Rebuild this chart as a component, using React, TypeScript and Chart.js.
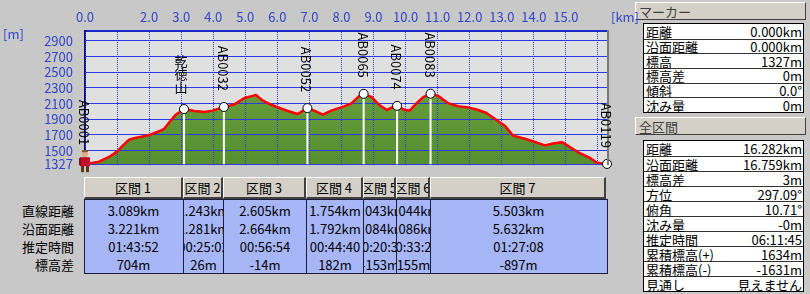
import React, { useEffect, useRef, useState } from "react";
import { Chart, registerables } from "chart.js";

Chart.register(...registerables);

// ---------- data ----------
const distKm = [
  0, 0.44, 0.75, 1.01, 1.17, 1.375, 1.53, 1.79, 2.0, 2.31, 2.47, 2.625, 2.83, 3.089,
  3.41, 3.72, 3.98, 4.332, 4.66, 4.97, 5.23, 5.33, 5.54, 5.85, 6.17, 6.375, 6.63, 6.937,
  7.16, 7.42, 7.68, 7.99, 8.3, 8.56, 8.691, 8.93, 9.19, 9.42, 9.55, 9.734, 9.97, 10.125,
  10.33, 10.54, 10.778, 11.01, 11.32, 11.63, 11.95, 12.26, 12.52, 12.78, 13.09, 13.35,
  13.72, 14.03, 14.34, 14.6, 14.87, 15.07, 15.38, 15.75, 15.96, 16.281,
];
const elevM = [
  1327, 1359, 1419, 1491, 1560, 1639, 1659, 1680, 1699, 1747, 1779, 1860, 1959, 2031,
  2007, 1992, 2011, 2057, 2091, 2172, 2199, 2211, 2139, 2079, 2028, 2000, 1968, 2043,
  2007, 1959, 2011, 2052, 2100, 2199, 2225, 2187, 2079, 2019, 2047, 2072, 2019, 2011,
  2100, 2179, 2227, 2199, 2107, 2067, 2052, 2019, 1980, 1908, 1819, 1692,
  1651, 1611, 1567, 1591, 1608, 1560, 1479, 1407, 1347, 1330,
];

const wpNames = ["AB0001", "乾徳山", "AB0032", "AB0052", "AB0065", "AB0074", "AB0083", "AB0119"];
const wpKm = [0, 3.089, 4.332, 6.937, 8.691, 9.734, 10.778, 16.281];
const wpElev = [1327, 2031, 2057, 2043, 2225, 2072, 2227, 1330];

const xTickValues = [0, 1, 2, 3, 4, 5, 6, 7, 8, 9, 10, 11, 12, 13, 14, 15, 16];
const xTickLabels = ["0.0", "", "2.0", "3.0", "4.0", "5.0", "6.0", "7.0", "8.0", "9.0", "10.0", "11.0", "12.0", "13.0", "14.0", "15.0", ""];
const yTickValues = [1327, 1500, 1700, 1900, 2100, 2300, 2500, 2700, 2900];
const yTickLabels = ["1327", "1500", "1700", "1900", "2100", "2300", "2500", "2700", "2900"];
const yMin = 1327;
const yMax = 3027;
const xMax = 16.281;

const sectionNames = ["区間 1", "区間 2", "区間 3", "区間 4", "区間 5", "区間 6", "区間 7"];
const sectionDirect = ["3.089km", "1.243km", "2.605km", "1.754km", "1.043km", "1.044km", "5.503km"];
const sectionSurface = ["3.221km", "1.281km", "2.664km", "1.792km", "1.084km", "1.086km", "5.632km"];
const sectionTime = ["01:43:52", "00:25:02", "00:56:54", "00:44:40", "00:20:35", "00:33:24", "01:27:08"];
const sectionDiff = ["704m", "26m", "-14m", "182m", "-153m", "155m", "-897m"];
const rowLabels = ["直線距離", "沿面距離", "推定時間", "標高差"];

const markerLabels = ["距離", "沿面距離", "標高", "標高差", "傾斜", "沈み量"];
const markerValues = ["0.000km", "0.000km", "1327m", "0m", "0.0°", "0m"];
const totalLabels = ["距離", "沿面距離", "標高差", "方位", "俯角", "沈み量", "推定時間", "累積標高(+)", "累積標高(-)", "見通し"];
const totalValues = ["16.282km", "16.759km", "3m", "297.09°", "10.71°", "-0m", "06:11:45", "1634m", "-1631m", "見えません"];

// ---------- styles ----------
const FONT = '"Noto Sans CJK JP", "Noto Sans", sans-serif';
const BLUE_TEXT = "#3344cc";
const GRID_BLUE = "#2b3be6";
const PAGE_BG = "#c8c8c8";
const BTN_BG = "#d4d0c8";

const CANVAS_W = 640;
const CANVAS_H = 184;
const PLOT_RIGHT = 607;
const PLOT_BOTTOM = 173;

const decorPlugin = {
  id: "decor",
  beforeDraw(chart: any) {
    const { ctx, chartArea: a } = chart;
    ctx.save();
    ctx.fillStyle = "#e0e0e0";
    ctx.fillRect(a.left, a.top, a.right - a.left, a.bottom - a.top);
    ctx.restore();
  },
  afterDatasetDraw(chart: any, args: any) {
    if (args.index !== 0) return;
    const { ctx, chartArea: a } = chart;
    const xs = chart.scales.x;
    const ys = chart.scales.y;
    // grid lines over the terrain fill
    xs.drawGrid(a);
    ys.drawGrid(a);
    ctx.save();
    ctx.strokeStyle = "#ffffff";
    ctx.lineWidth = 2;
    for (let i = 1; i < wpKm.length; i++) {
      const x = xs.getPixelForValue(wpKm[i]);
      const y = ys.getPixelForValue(wpElev[i]);
      ctx.beginPath();
      ctx.moveTo(x, y);
      ctx.lineTo(x, a.bottom);
      ctx.stroke();
    }
    ctx.restore();
  },
  afterDraw(chart: any) {
    const { ctx, chartArea: a } = chart;
    const xs = chart.scales.x;
    const ys = chart.scales.y;
    ctx.save();
    // right frame
    ctx.strokeStyle = "#7a7a7a";
    ctx.lineWidth = 2;
    ctx.beginPath();
    ctx.moveTo(a.right + 1, a.top - 1);
    ctx.lineTo(a.right + 1, a.bottom + 1);
    ctx.stroke();

    // unit labels
    ctx.fillStyle = BLUE_TEXT;
    ctx.font = `13px ${FONT}`;
    ctx.textBaseline = "middle";
    ctx.textAlign = "left";
    ctx.fillText("[m]", 3, 34);
    ctx.fillText("[km]", a.right + 4, 17);

    // waypoint labels
    ctx.fillStyle = "#000";
    ctx.font = `13px ${FONT}`;
    for (let i = 0; i < wpNames.length; i++) {
      const x = xs.getPixelForValue(wpKm[i]) - 1;
      const y = ys.getPixelForValue(wpElev[i]);
      const off = i === 0 ? 19 : 16;
      const name = wpNames[i];
      if (/^[\x00-\x7f]+$/.test(name)) {
        ctx.save();
        ctx.translate(x, y - off);
        ctx.rotate(Math.PI / 2);
        ctx.textAlign = "right";
        ctx.textBaseline = "middle";
        ctx.fillText(name, 0, 0);
        ctx.restore();
      } else {
        ctx.textAlign = "center";
        ctx.textBaseline = "middle";
        const chars = Array.from(name);
        for (let k = 0; k < chars.length; k++) {
          const cy = y - off - 6 - (chars.length - 1 - k) * 13;
          ctx.fillText(chars[k], x - 2, cy);
        }
      }
    }

    // hiker icon at start
    const hx = xs.getPixelForValue(wpKm[0]);
    const hy = ys.getPixelForValue(wpElev[0]);
    ctx.fillStyle = "#5a3a1a";
    ctx.fillRect(hx - 4, hy + 1, 3, 7);
    ctx.fillRect(hx + 1, hy + 1, 3, 7);
    ctx.fillStyle = "#c0102a";
    ctx.fillRect(hx - 5, hy - 7, 10, 9);
    ctx.fillStyle = "#7a1020";
    ctx.fillRect(hx - 6, hy - 6, 2, 7);
    ctx.fillStyle = "#e0b080";
    ctx.beginPath();
    ctx.arc(hx, hy - 10, 3, 0, Math.PI * 2);
    ctx.fill();
    ctx.fillStyle = "#8a5a20";
    ctx.fillRect(hx - 3, hy - 14, 6, 2);
    ctx.restore();
  },
};

const btnStyle: React.CSSProperties = {
  position: "absolute",
  background: BTN_BG,
  boxSizing: "border-box",
  borderTop: "1px solid #ffffff",
  borderLeft: "1px solid #ffffff",
  borderRight: "2px solid #404040",
  borderBottom: "2px solid #404040",
  font: `13px ${FONT}`,
  color: "#000",
  whiteSpace: "nowrap",
  overflow: "hidden",
  display: "flex",
  alignItems: "center",
  justifyContent: "center",
};

function InfoBox({ top, labels, values, rowH }: { top: number; labels: string[]; values: string[]; rowH: number }) {
  return (
    <div
      style={{
        position: "absolute",
        left: 643,
        top,
        width: 159,
        background: "#fff",
        border: "1px solid #000",
        boxSizing: "content-box",
        font: `13px ${FONT}`,
        color: "#000",
      }}
    >
      {labels.map((l, i) => (
        <div
          key={i}
          style={{
            height: rowH,
            boxSizing: "border-box",
            borderTop: i === 0 ? "none" : "1px solid #333",
            display: "flex",
            justifyContent: "space-between",
            alignItems: "center",
            padding: "0 1px 0 2px",
            lineHeight: "13px",
            whiteSpace: "nowrap",
          }}
        >
          <span>{l}</span>
          <span>{values[i]}</span>
        </div>
      ))}
    </div>
  );
}

function PanelHeader({ top, text }: { top: number; text: string }) {
  return (
    <div
      style={{
        ...btnStyle,
        left: 635,
        top,
        width: 171,
        height: 18,
        justifyContent: "flex-start",
        paddingLeft: 3,
        color: "#404040",
        borderRight: "1px solid #404040",
        borderBottom: "1px solid #404040",
      }}
    >
      {text}
    </div>
  );
}

export default function App() {
  const canvasRef = useRef<HTMLCanvasElement | null>(null);
  const [edges, setEdges] = useState<number[] | null>(null);

  useEffect(() => {
    document.body.style.margin = "0";
    const canvas = canvasRef.current;
    if (!canvas) return;
    const profilePoints = distKm.map((x, i) => ({ x, y: elevM[i] }));
    const chart = new Chart(canvas, {
      type: "line",
      data: {
        datasets: [
          {
            type: "line",
            data: profilePoints,
            borderWidth: 0,
            borderColor: "rgba(0,0,0,0)",
            pointRadius: 0,
            tension: 0,
            fill: "start",
            order: 3,
            backgroundColor: (c: any) => {
              const area = c.chart.chartArea;
              if (!area) return "#629838";
              const g = c.chart.ctx.createLinearGradient(0, area.top, 0, area.bottom);
              g.addColorStop(0, "#74a845");
              g.addColorStop(0.5, "#659c3a");
              g.addColorStop(1, "#558f30");
              return g;
            },
          } as any,
          {
            type: "line",
            data: profilePoints,
            borderColor: "#ff0000",
            borderWidth: 2.5,
            borderJoinStyle: "round",
            pointRadius: 0,
            tension: 0,
            fill: false,
            order: 2,
          } as any,
          {
            type: "line",
            data: wpKm.map((x, i) => ({ x, y: wpElev[i] })),
            showLine: false,
            pointRadius: (c: any) => (c.dataIndex === 0 ? 0 : 4.5),
            pointHoverRadius: 0,
            pointBackgroundColor: "#ffffff",
            pointBorderColor: "#000000",
            pointBorderWidth: 1,
            order: 1,
            clip: false,
          } as any,
        ],
      },
      options: {
        responsive: false,
        animation: false,
        events: [],
        layout: { padding: { left: 0, top: 0, right: CANVAS_W - PLOT_RIGHT, bottom: CANVAS_H - PLOT_BOTTOM } },
        plugins: { legend: { display: false }, tooltip: { enabled: false } },
        scales: {
          x: {
            type: "linear",
            position: "top",
            min: 0,
            max: xMax,
            afterFit: (s: any) => {
              s.height = 31;
            },
            afterBuildTicks: (s: any) => {
              s.ticks = xTickValues.map((v) => ({ value: v }));
            },
            ticks: {
              autoSkip: false,
              maxRotation: 0,
              padding: 6,
              color: BLUE_TEXT,
              font: { family: FONT, size: 13 },
              callback: (v: any) => {
                const idx = xTickValues.indexOf(Number(v));
                return idx >= 0 ? xTickLabels[idx] : "";
              },
            },
            grid: { color: GRID_BLUE, lineWidth: 1, drawTicks: false },
            border: { display: true, color: "#1a28c8", width: 2, dash: [1, 1] },
          },
          y: {
            type: "linear",
            min: yMin,
            max: yMax,
            afterFit: (s: any) => {
              s.width = 85;
            },
            afterBuildTicks: (s: any) => {
              s.ticks = yTickValues.map((v) => ({ value: v }));
            },
            ticks: {
              autoSkip: false,
              padding: 12,
              color: BLUE_TEXT,
              font: { family: FONT, size: 13 },
              callback: (v: any) => {
                const idx = yTickValues.indexOf(Number(v));
                return idx >= 0 ? yTickLabels[idx] : "";
              },
            },
            grid: { color: GRID_BLUE, lineWidth: 1, drawTicks: false },
            border: { display: true, color: "#101070", width: 2 },
          },
        },
      } as any,
      plugins: [decorPlugin],
    });
    const xs: any = chart.scales.x;
    setEdges(wpKm.map((k) => Math.round(xs.getPixelForValue(k))));
    return () => {
      chart.destroy();
    };
  }, []);

  const sectionRows = [sectionDirect, sectionSurface, sectionTime, sectionDiff];

  return (
    <div style={{ position: "relative", width: 810, height: 294, background: PAGE_BG, overflow: "hidden" }}>
      {edges && (
        <>
          {sectionNames.map((n, i) => (
            <div
              key={"h" + i}
              style={{
                ...btnStyle,
                left: edges[i] - 1,
                top: 177,
                width: edges[i + 1] - edges[i],
                height: 22,
              }}
            >
              <span>{n}</span>
            </div>
          ))}
          <div
            style={{
              position: "absolute",
              left: edges[0] - 1,
              top: 199,
              width: edges[edges.length - 1] - edges[0],
              height: 73,
              background: "#a6b6f7",
              border: "1px solid #1c1c3c",
            }}
          />
          {sectionNames.map((_, i) => (
            <div
              key={"c" + i}
              style={{
                position: "absolute",
                left: edges[i] - 1,
                top: 200,
                width: edges[i + 1] - edges[i],
                height: 73,
                boxSizing: "border-box",
                borderLeft: i === 0 ? "none" : "1px solid #1c1c3c",
                overflow: "hidden",
                font: `13px ${FONT}`,
                color: "#000",
                paddingTop: 1,
              }}
            >
              {sectionRows.map((row, r) => (
                <div
                  key={r}
                  style={{
                    height: 18,
                    display: "flex",
                    justifyContent: "center",
                    alignItems: "center",
                    whiteSpace: "nowrap",
                  }}
                >
                  <span>{row[i]}</span>
                </div>
              ))}
            </div>
          ))}
        </>
      )}
      {rowLabels.map((l, r) => (
        <div
          key={"rl" + r}
          style={{
            position: "absolute",
            left: 0,
            width: 74,
            top: 201 + r * 18,
            height: 18,
            lineHeight: "18px",
            textAlign: "right",
            font: `13px ${FONT}`,
            color: "#000",
            whiteSpace: "nowrap",
          }}
        >
          {l}
        </div>
      ))}
      <canvas
        ref={canvasRef}
        width={CANVAS_W}
        height={CANVAS_H}
        style={{ position: "absolute", left: 0, top: 0, width: CANVAS_W, height: CANVAS_H, zIndex: 2 }}
      />
      <PanelHeader top={2} text="マーカー" />
      <InfoBox top={23} labels={markerLabels} values={markerValues} rowH={14.7} />
      <PanelHeader top={117} text="全区間" />
      <InfoBox top={140} labels={totalLabels} values={totalValues} rowH={15} />
    </div>
  );
}
